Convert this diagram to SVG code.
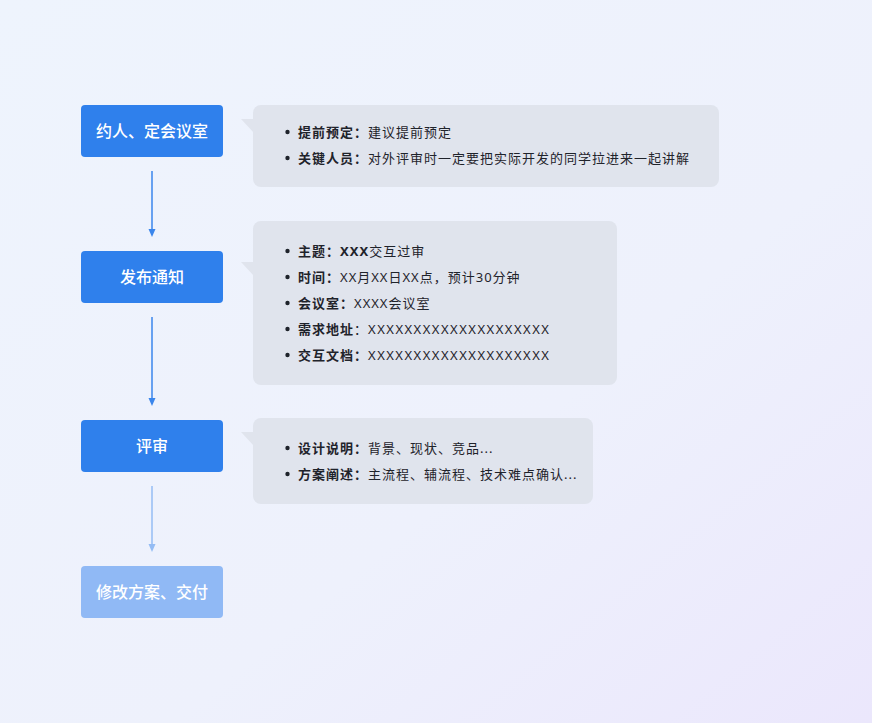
<svg xmlns="http://www.w3.org/2000/svg" width="872" height="723" viewBox="0 0 872 723">
<defs>
<linearGradient id="bg" x1="0" y1="0" x2="1" y2="1">
<stop offset="0" stop-color="#eef4fd"/>
<stop offset="0.6" stop-color="#eef1fc"/>
<stop offset="1" stop-color="#ebe7fc"/>
</linearGradient>
<marker id="ah" markerWidth="10" markerHeight="10" refX="4" refY="4" orient="auto" markerUnits="userSpaceOnUse"><path d="M0,0.5 L8,4 L0,7.5 z" fill="#3a86ec"/></marker>
<marker id="ahl" markerWidth="10" markerHeight="10" refX="4" refY="4" orient="auto" markerUnits="userSpaceOnUse"><path d="M0,0.5 L8,4 L0,7.5 z" fill="#94bcf4"/></marker>
<style>
.node{fill:#2f80ec}
.nodel{fill:#90b9f5}
.nt{font-family:"Noto Sans","Noto Sans CJK SC",sans-serif;font-size:16px;font-weight:500;fill:#fff;text-anchor:middle}
.call{fill:#e0e4ed}
.tx{font-family:"Noto Sans","Noto Sans CJK SC",sans-serif;font-size:13px;letter-spacing:1px;fill:#1f232b}
.b{font-weight:700}
.x{letter-spacing:1.5px}
.dot{fill:#1f232b}
.ln{stroke:#3a86ec;stroke-width:1.5;fill:none}
.lnl{stroke:#94bcf4;stroke-width:1.5;fill:none}
</style>
</defs>
<rect width="872" height="723" fill="url(#bg)"/>
<g id="connectors">
<line class="ln" x1="152" y1="171" x2="152" y2="233" marker-end="url(#ah)"/>
<line class="ln" x1="152" y1="317" x2="152" y2="402" marker-end="url(#ah)"/>
<line class="lnl" x1="152" y1="486" x2="152" y2="548" marker-end="url(#ahl)"/>
</g>
<g id="node1"><rect class="node" x="81" y="105" width="142" height="52" rx="4"/><text class="nt" x="152" y="137">约人、定会议室</text></g>
<g id="node2"><rect class="node" x="81" y="251" width="142" height="52" rx="4"/><text class="nt" x="152" y="283">发布通知</text></g>
<g id="node3"><rect class="node" x="81" y="420" width="142" height="52" rx="4"/><text class="nt" x="152" y="452">评审</text></g>
<g id="node4"><rect class="nodel" x="81" y="566" width="142" height="52" rx="4"/><text class="nt" x="152" y="598">修改方案、交付</text></g>
<g id="callout1">
<rect class="call" x="253" y="105" width="466" height="82" rx="8"/>
<path class="call" d="M241,119 L254,119 L254,133 z"/>
<circle class="dot" cx="287.5" cy="132" r="2.2"/><text class="tx" x="298" y="136.5"><tspan class="b">提前预定：</tspan>建议提前预定</text>
<circle class="dot" cx="287.5" cy="158" r="2.2"/><text class="tx" x="298" y="162.5"><tspan class="b">关键人员：</tspan>对外评审时一定要把实际开发的同学拉进来一起讲解</text>
</g>
<g id="callout2">
<rect class="call" x="253" y="221" width="364" height="164" rx="8"/>
<path class="call" d="M241,262 L254,262 L254,276 z"/>
<circle class="dot" cx="287.5" cy="251" r="2.2"/><text class="tx" x="298" y="255.5"><tspan class="b">主题：XXX</tspan>交互过审</text>
<circle class="dot" cx="287.5" cy="277" r="2.2"/><text class="tx" x="298" y="281.5"><tspan class="b">时间：</tspan>XX月XX日XX点，预计30分钟</text>
<circle class="dot" cx="287.5" cy="303" r="2.2"/><text class="tx" x="298" y="307.5"><tspan class="b">会议室：</tspan>XXXX会议室</text>
<circle class="dot" cx="287.5" cy="329" r="2.2"/><text class="tx" x="298" y="333.5"><tspan class="b">需求地址</tspan>：<tspan class="x">XXXXXXXXXXXXXXXXXXXX</tspan></text>
<circle class="dot" cx="287.5" cy="355" r="2.2"/><text class="tx" x="298" y="359.5"><tspan class="b">交互文档：</tspan><tspan class="x">XXXXXXXXXXXXXXXXXXXX</tspan></text>
</g>
<g id="callout3">
<rect class="call" x="253" y="418" width="340" height="86" rx="8"/>
<path class="call" d="M241,432 L254,432 L254,446 z"/>
<circle class="dot" cx="287.5" cy="448" r="2.2"/><text class="tx" x="298" y="452.5"><tspan class="b">设计说明：</tspan>背景、现状、竞品...</text>
<circle class="dot" cx="287.5" cy="474" r="2.2"/><text class="tx" x="298" y="478.5"><tspan class="b">方案阐述：</tspan>主流程、辅流程、技术难点确认...</text>
</g>
</svg>
